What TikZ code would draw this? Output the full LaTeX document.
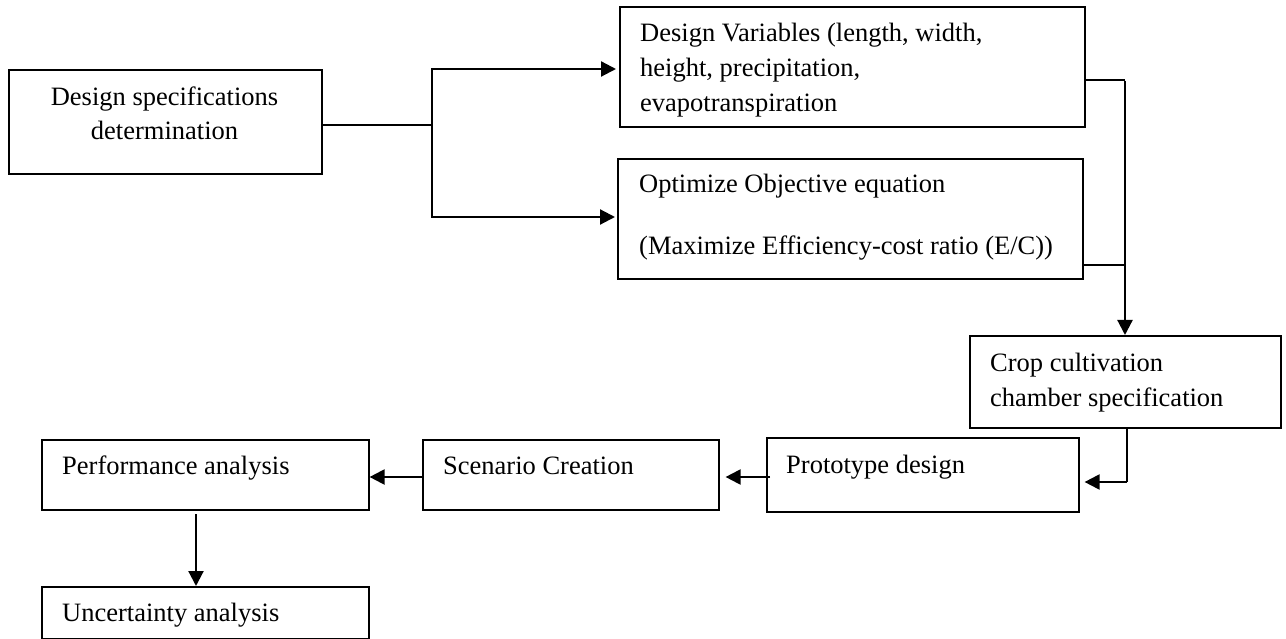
\documentclass[tikz,border=0pt]{standalone}
\usepackage{fontspec}
\setmainfont{Liberation Serif}
\usetikzlibrary{arrows.meta}
\begin{document}
\begin{tikzpicture}[x=1pt,y=-1pt,
  box/.style={draw, line width=1.6pt, inner sep=0pt, anchor=north west},
  txt/.style={anchor=base west, inner sep=0pt, font=\fontsize{26.5}{35.5}\selectfont},
  conn/.style={line width=2.2pt},
  thinline/.style={line width=1.5pt},
  arr/.style={conn, -{Triangle[length=15pt,width=15pt]}}]
\useasboundingbox (0,0) rectangle (1286,639);

% boxes
\node[box, minimum width=313pt, minimum height=104pt] (b1) at (8,69) {};
\node[box, minimum width=465pt, minimum height=120pt] (b2) at (619,6) {};
\node[box, minimum width=465pt, minimum height=120pt] (b3) at (617,158) {};
\node[box, minimum width=311pt, minimum height=92pt] (crop) at (969,335) {};
\node[box, minimum width=312pt, minimum height=74pt] (proto) at (766,437) {};
\node[box, minimum width=296pt, minimum height=70pt] (scen) at (422,439) {};
\node[box, minimum width=327pt, minimum height=70pt] (perf) at (41,439) {};
\node[box, minimum width=327pt, minimum height=52pt] (unc) at (41,586) {};

% texts
\node[txt, anchor=base] (t1a) at (164.5,106) {Design specifications};
\node[txt, anchor=base] (t1b) at (164.5,140) {determination};
\node[txt] (t2a) at (640,42) {Design Variables (length, width,};
\node[txt] (t2b) at (640,77) {height, precipitation,};
\node[txt] (t2c) at (640,112) {evapotranspiration};
\node[txt] (t3a) at (639,193) {Optimize Objective equation};
\node[txt] (t3b) at (639,255) {(Maximize Efficiency-cost ratio (E/C))};
\node[txt] (t4a) at (990,371) {Crop cultivation};
\node[txt] (t4b) at (990,406) {chamber specification};
\node[txt] (t5) at (786,473) {Prototype design};
\node[txt] (t6) at (443,474) {Scenario Creation};
\node[txt] (t7) at (62,474) {Performance analysis};
\node[txt] (t8) at (62,621) {Uncertainty analysis};

% connectors
\coordinate (j1) at (432,125);
\coordinate (j2) at (432,69);
\coordinate (j3) at (432,217);
\draw[thinline] (b1.east |- j1) -- (j1);
\draw[conn, line cap=rect] (j2) -- (j3);
\draw[arr, shorten >=3pt] (j2) -- (b2.west |- j2);
\draw[arr, shorten >=2pt] (j3) -- (b3.west |- j3);

\coordinate (k1) at (1125,80);
\coordinate (k2) at (1125,265);
\draw[thinline] (b2.east |- k1) -- (k1);
\draw[thinline] (b3.east |- k2) -- (k2);
\draw[arr] ([yshift=-0.75pt]k1) -- (k1 |- crop.north);

\coordinate (m1) at (1127,482);
\draw[thinline] (crop.south -| m1) -- (m1);
\draw[arr, shorten >=5pt] (m1) -- (proto.east |- m1);

\coordinate (p1) at (770,477);
\draw[arr, shorten >=6pt] (p1) -- (scen.east |- p1);
\draw[arr] (scen.west |- p1) -- (perf.east |- p1);

\coordinate (q1) at (196,514);
\draw[arr] (q1) -- (q1 |- unc.north);
\end{tikzpicture}
\end{document}
